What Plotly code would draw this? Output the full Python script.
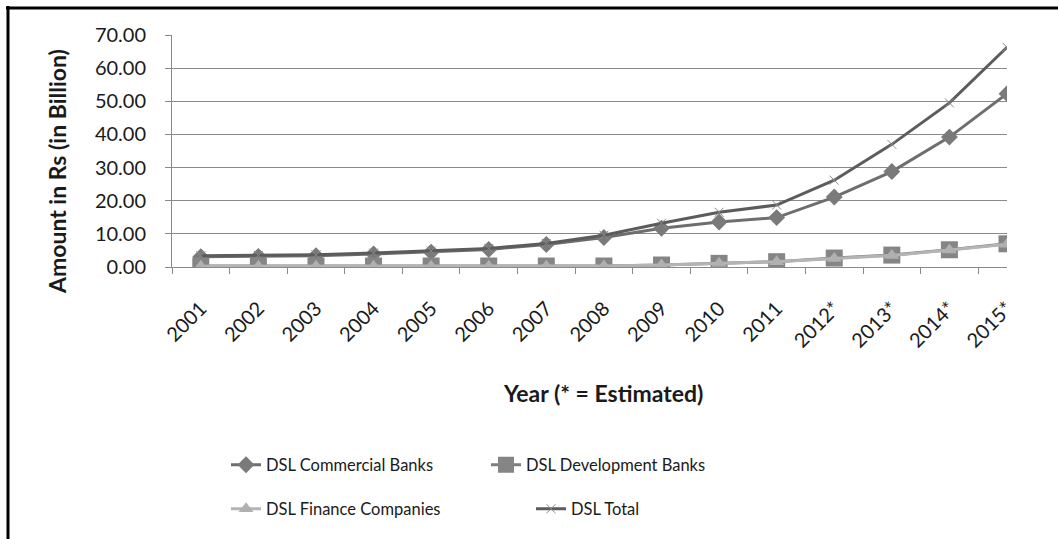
import plotly.graph_objects as go

years = ["2001", "2002", "2003", "2004", "2005", "2006", "2007", "2008",
         "2009", "2010", "2011", "2012*", "2013*", "2014*", "2015*"]
commercial = [3.1, 3.2, 3.4, 3.9, 4.5, 5.3, 6.8, 8.9, 11.7, 13.6, 14.9, 21.1, 28.8, 39.2, 52.3]
development = [0.3, 0.3, 0.3, 0.3, 0.3, 0.3, 0.3, 0.3, 0.6, 1.1, 1.6, 2.7, 3.6, 5.2, 7.0]
finance = [0.2, 0.2, 0.2, 0.2, 0.2, 0.2, 0.2, 0.3, 0.6, 1.1, 1.6, 2.6, 3.5, 5.1, 6.9]
total = [3.4, 3.5, 3.7, 4.2, 4.8, 5.6, 7.1, 9.6, 13.2, 16.5, 18.7, 26.2, 37.0, 49.5, 66.3]
y_ticks = [0, 10, 20, 30, 40, 50, 60, 70]

FONT = "Lato"

fig = go.Figure()
fig.add_trace(go.Scatter(x=years, y=commercial, name="DSL Commercial Banks", mode="lines+markers",
                         line=dict(color="#6e6e6e", width=3),
                         marker=dict(symbol="diamond", size=13, color="#7a7a7a"), legend="legend"))
fig.add_trace(go.Scatter(x=years, y=development, name="DSL Development Banks", mode="lines+markers",
                         line=dict(color="#7d7d7d", width=3),
                         marker=dict(symbol="square", size=17, color="#858585"), legend="legend"))
fig.add_trace(go.Scatter(x=years, y=finance, name="DSL Finance Companies", mode="lines+markers",
                         line=dict(color="#b4b4b4", width=3),
                         marker=dict(symbol="triangle-up", size=13, color="#b0b0b0"), legend="legend2"))
fig.add_trace(go.Scatter(x=years, y=total, name="DSL Total", mode="lines+markers",
                         line=dict(color="#5c5c5c", width=3),
                         marker=dict(symbol="x-thin", size=9, color="#8a8a8a",
                                     line=dict(width=1, color="#8a8a8a")), legend="legend2"))

L, R, T, B = 172, 1007, 35, 267
pw, ph = R - L, B - T

def px(xp):
    return (xp - L) / pw

def py(yp):
    return (B - yp) / ph

fig.update_layout(
    width=1058, height=539,
    margin=dict(l=L, r=1058 - R, t=T, b=539 - B),
    paper_bgcolor="white", plot_bgcolor="white",
    font=dict(family=FONT, color="#1a1a1a"),
    showlegend=True,
    legend=dict(orientation="h", x=px(226), y=py(465), xanchor="left", yanchor="middle",
                font=dict(size=16.5, family=FONT), entrywidth=215, entrywidthmode="pixels",
                bgcolor="rgba(0,0,0,0)"),
    legend2=dict(orientation="h", x=px(226), y=py(509), xanchor="left", yanchor="middle",
                 font=dict(size=16.5, family=FONT), entrywidth=260, entrywidthmode="pixels",
                 bgcolor="rgba(0,0,0,0)"),
    xaxis=dict(
        type="category", range=[-0.5, 14.0], tickangle=-45,
        tickfont=dict(size=20, family=FONT), showgrid=False,
        showline=True, linecolor="#8a8a8a", linewidth=1,
        ticks="outside", tickson="boundaries", ticklen=6, tickcolor="#8a8a8a",
        ticklabelstandoff=21,
    ),
    yaxis=dict(
        range=[0, 70], tickvals=y_ticks, tickformat=".2f",
        tickfont=dict(size=20, family=FONT), showgrid=True, gridcolor="#8a8a8a", gridwidth=1,
        showline=True, linecolor="#8a8a8a", linewidth=1, zeroline=False,
        ticks="outside", ticklen=6, tickcolor="#8a8a8a",
        ticklabelstandoff=15,
    ),
    annotations=[
        dict(text="<b>Year (* = Estimated)</b>", xref="paper", yref="paper",
             x=px(603), y=py(393), xanchor="center", yanchor="middle", showarrow=False,
             font=dict(size=23, family=FONT)),
        dict(text="<b>Amount in Rs (in Billion)</b>", xref="paper", yref="paper",
             x=px(57), y=py(172), xanchor="center", yanchor="middle", showarrow=False,
             textangle=-90, font=dict(size=23, family=FONT)),
    ],
    shapes=[
        dict(type="line", xref="paper", yref="paper", x0=px(6), x1=px(1070), y0=py(8), y1=py(8),
             line=dict(color="black", width=3)),
        dict(type="line", xref="paper", yref="paper", x0=px(8), x1=px(8), y0=py(6), y1=py(560),
             line=dict(color="black", width=3)),
    ],
)

fig.write_html("out.html", config={"displayModeBar": False},
               post_script="document.body.style.margin='0';document.body.style.overflow='hidden';")
